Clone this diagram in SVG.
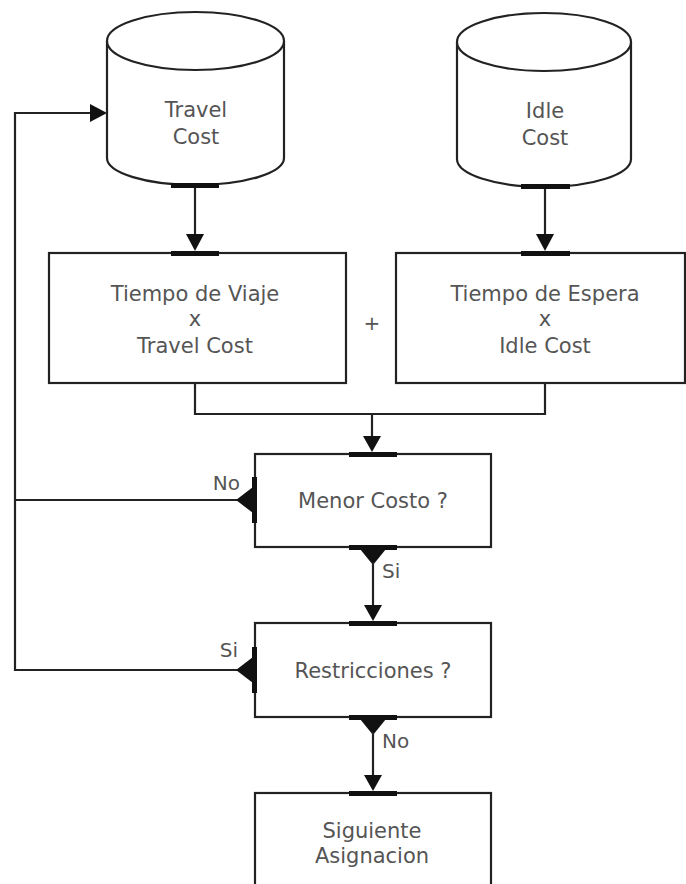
<svg xmlns="http://www.w3.org/2000/svg" width="686" height="884" viewBox="0 0 686 884">
  <style>
    .shape { fill: #ffffff; stroke: #222222; stroke-width: 2.2; }
    .wire { fill: none; stroke: #222222; stroke-width: 2.2; }
    .bar { fill: #111111; }
    .head { fill: #111111; }
    text { font-family: "DejaVu Sans", "Liberation Sans", sans-serif; font-size: 21px; fill: #555555; }
    .lbl { font-size: 20px; }
    .c { text-anchor: middle; }
  </style>
  <rect width="686" height="884" fill="#ffffff"/>

  <!-- connectors -->
  <g id="connectors">
    <!-- Travel Cost -> Tiempo de Viaje -->
    <line class="wire" x1="195" y1="187" x2="195" y2="237"/>
    <polygon class="head" points="186,234 204,234 195,251"/>
    <!-- Idle Cost -> Tiempo de Espera -->
    <line class="wire" x1="545" y1="188" x2="545" y2="237"/>
    <polygon class="head" points="536,234 554,234 545,251"/>
    <!-- merge of both products -->
    <polyline class="wire" points="195,383 195,414 545,414 545,383"/>
    <line class="wire" x1="372" y1="414" x2="372" y2="438"/>
    <polygon class="head" points="363,436 381,436 372,452"/>
    <!-- Menor Costo ? -> Si -> Restricciones ? -->
    <polygon class="head" points="360,549 386,549 373,565"/>
    <line class="wire" x1="373" y1="562" x2="373" y2="607"/>
    <polygon class="head" points="364,605 382,605 373,621"/>
    <!-- Restricciones ? -> No -> Siguiente Asignacion -->
    <polygon class="head" points="360,719 386,719 373,735"/>
    <line class="wire" x1="373" y1="732" x2="373" y2="777"/>
    <polygon class="head" points="364,775 382,775 373,791"/>
    <!-- feedback loop back to Travel Cost -->
    <polyline class="wire" points="239,500 15,500"/>
    <polyline class="wire" points="239,670 15,670 15,113 92,113"/>
    <polygon class="head" points="90,104 90,122 107,113"/>
    <polygon class="head" points="253,487 253,513 236,500"/>
    <polygon class="head" points="253,657 253,683 236,670"/>
    <text class="lbl" x="240" y="490" text-anchor="end">No</text>
    <text class="lbl" x="382" y="578">Si</text>
    <text class="lbl" x="238" y="657" text-anchor="end">Si</text>
    <text class="lbl" x="382" y="748">No</text>
    <text class="lbl c" x="372" y="330">+</text>
  </g>

  <g id="travel-cost">
    <path class="shape" d="M107,41 L107,158 A88.5,27 0 0 0 284,158 L284,41"/>
    <ellipse class="shape" cx="195.5" cy="41" rx="88.5" ry="29"/>
    <rect class="bar" x="171" y="183" width="48" height="5"/>
    <text class="c" x="196" y="117">Travel</text>
    <text class="c" x="196" y="144">Cost</text>
  </g>

  <g id="idle-cost">
    <path class="shape" d="M457,42 L457,159 A87,28 0 0 0 631,159 L631,42"/>
    <ellipse class="shape" cx="544" cy="42" rx="87" ry="29"/>
    <rect class="bar" x="521" y="184" width="49" height="5"/>
    <text class="c" x="545" y="118">Idle</text>
    <text class="c" x="545" y="145">Cost</text>
  </g>

  <g id="tiempo-viaje">
    <rect class="shape" x="49" y="253" width="297" height="130"/>
    <rect class="bar" x="171" y="251" width="48" height="5"/>
    <text class="c" x="195" y="301">Tiempo de Viaje</text>
    <text class="c" x="195" y="326">x</text>
    <text class="c" x="195" y="353">Travel Cost</text>
  </g>

  <g id="tiempo-espera">
    <rect class="shape" x="396" y="253" width="289" height="130"/>
    <rect class="bar" x="521" y="251" width="49" height="5"/>
    <text class="c" x="545" y="301">Tiempo de Espera</text>
    <text class="c" x="545" y="326">x</text>
    <text class="c" x="545" y="353">Idle Cost</text>
  </g>

  <g id="menor-costo">
    <rect class="shape" x="255" y="454" width="236" height="93"/>
    <rect class="bar" x="349" y="452" width="48" height="5"/>
    <rect class="bar" x="349" y="545" width="48" height="5"/>
    <rect class="bar" x="252" y="477" width="5" height="46"/>
    <text class="c" x="373" y="508">Menor Costo ?</text>
  </g>

  <g id="restricciones">
    <rect class="shape" x="255" y="623" width="236" height="94"/>
    <rect class="bar" x="349" y="621" width="48" height="5"/>
    <rect class="bar" x="349" y="715" width="48" height="5"/>
    <rect class="bar" x="252" y="647" width="5" height="46"/>
    <text class="c" x="373" y="678">Restricciones ?</text>
  </g>

  <g id="siguiente-asignacion">
    <rect class="shape" x="255" y="793" width="236" height="110"/>
    <rect class="bar" x="349" y="791" width="48" height="5"/>
    <text class="c" x="372" y="838">Siguiente</text>
    <text class="c" x="372" y="863">Asignacion</text>
  </g>
</svg>
